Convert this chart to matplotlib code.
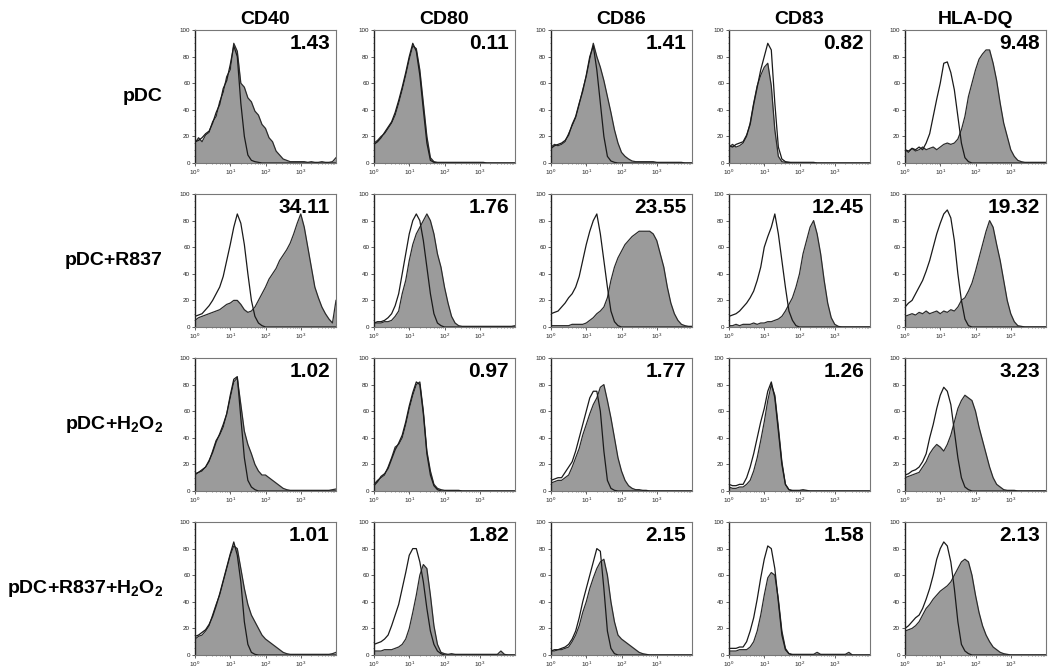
import numpy as np
import matplotlib
matplotlib.use("Agg")
import matplotlib.pyplot as plt
from matplotlib.ticker import LogLocator, NullFormatter, MultipleLocator

plt.rcParams['font.family'] = ['Liberation Sans', 'DejaVu Sans']
plt.rcParams['mathtext.fontset'] = 'custom'
plt.rcParams['mathtext.rm'] = 'Liberation Sans'
plt.rcParams['mathtext.bf'] = 'Liberation Sans:bold'

markers = ['CD40', 'CD80', 'CD86', 'CD83', 'HLA-DQ']
conditions = ['pDC', 'pDC+R837', r'pDC+H$_\mathbf{2}$O$_\mathbf{2}$',
              r'pDC+R837+H$_\mathbf{2}$O$_\mathbf{2}$']
percent_pos = [[1.43, 0.11, 1.41, 0.82, 9.48],
               [34.11, 1.76, 23.55, 12.45, 19.32],
               [1.02, 0.97, 1.77, 1.26, 3.23],
               [1.01, 1.82, 2.15, 1.58, 2.13]]

# channel positions, log10 of fluorescence, one bin every 0.1 decade
log_channel = [i / 10 for i in range(41)]

# histogram heights (% of max), bins past the list are empty
pdc_stained = [
    [15, 19, 16, 21, 23, 31, 35, 46, 53, 65, 70, 90, 84, 60, 57, 49, 46, 39, 36, 29, 26, 19, 16, 9, 6, 3, 2, 1, 1, 1,
     1, 1, 0.5, 1, 0.5, 0.5, 1, 0.5, 0.5, 1, 4],
    [15, 17, 20, 22, 26, 30, 36, 45, 55, 66, 78, 88, 86, 70, 45, 20, 4, 1, 0.5, 0.5, 0.5, 0.5, 0.5, 0.5, 0.5, 0.5,
     0.5, 0.5, 0.5, 0.5, 0.5, 0.5],
    [12, 14, 13, 14, 16, 22, 28, 34, 44, 55, 65, 78, 90, 80, 72, 62, 50, 38, 25, 15, 8, 5, 3, 1.5, 1, 1, 1, 1, 1, 1,
     0.5, 0.5, 0.5, 0.5, 0.5, 0.5, 0.5, 0.5],
    [12, 14, 12, 13, 15, 20, 30, 45, 58, 66, 72, 75, 58, 25, 5, 1, 0.5, 0.5, 0.5, 0.5, 0.5, 0.5, 0.5, 0.5, 0.5],
    [10, 8, 11, 9, 10, 12, 10, 11, 12, 10, 12, 14, 15, 14, 15, 18, 25, 35, 50, 60, 70, 78, 82, 85, 85, 75, 62, 45,
     30, 20, 10, 5, 2, 1, 0.5, 0.5, 0.5, 0.5, 0.5, 0.5, 0.5],
]
pdc_isotype = [
    [16, 17, 19, 22, 24, 30, 38, 44, 56, 62, 74, 88, 80, 45, 20, 6, 2, 1, 0.5],
    [14, 16, 19, 23, 27, 31, 38, 47, 57, 68, 80, 90, 84, 66, 40, 15, 2, 0.5],
    [11, 13, 14, 15, 17, 21, 29, 35, 45, 54, 66, 80, 88, 70, 45, 20, 5, 1.5, 0.5],
    [13, 12, 14, 15, 16, 21, 29, 44, 57, 70, 80, 90, 85, 45, 12, 3, 1, 0.5],
    [10, 9, 11, 10, 12, 10, 15, 22, 35, 48, 60, 75, 76, 68, 55, 35, 15, 4, 1],
]

r837_stained = [
    [5, 7, 8, 9, 10, 11, 12, 13, 15, 17, 18, 20, 20, 17, 13, 11, 12, 15, 20, 25, 30, 36, 40, 44, 50, 54, 58, 63, 70,
     78, 85, 75, 60, 45, 30, 22, 15, 10, 6, 3, 20],
    [3, 3, 3, 4, 4, 5, 8, 12, 25, 35, 50, 62, 70, 75, 80, 85, 80, 70, 55, 45, 30, 18, 8, 3, 1, 0.5, 0.5, 0.5, 0.5,
     0.5, 0.5, 0.5, 0.5, 0.5, 0.5, 0.5, 0.5, 0.5, 0.5, 0.5, 1],
    [1, 1, 1, 1, 1, 1, 2, 2, 2, 2, 3, 5, 7, 10, 12, 15, 22, 35, 45, 52, 57, 62, 65, 68, 70, 72, 72, 72, 72, 70, 65,
     55, 45, 30, 18, 10, 5, 2, 1, 0.5, 0.5],
    [1, 1, 2, 1, 2, 2, 2, 3, 2, 3, 3, 4, 4, 5, 6, 8, 12, 17, 22, 30, 40, 55, 65, 75, 80, 70, 55, 35, 18, 7, 2, 0.5],
    [8, 9, 10, 9, 11, 10, 12, 10, 11, 12, 10, 12, 11, 13, 12, 15, 20, 22, 27, 33, 42, 52, 62, 72, 80, 75, 62, 50,
     35, 20, 10, 4, 1, 0.5],
]
r837_isotype = [
    [8, 9, 10, 13, 16, 20, 25, 30, 38, 50, 62, 75, 85, 78, 62, 40, 20, 8, 3, 1],
    [3, 4, 4, 5, 7, 10, 16, 25, 40, 55, 70, 80, 85, 80, 65, 45, 25, 10, 3, 1],
    [10, 11, 12, 15, 18, 22, 25, 30, 38, 50, 62, 72, 80, 85, 70, 50, 30, 12, 4, 1],
    [8, 9, 10, 12, 15, 18, 22, 27, 35, 45, 60, 68, 75, 85, 70, 50, 30, 12, 5, 1],
    [15, 18, 20, 25, 30, 35, 42, 50, 60, 70, 78, 85, 88, 82, 65, 40, 20, 6, 1],
]

h2o2_stained = [
    [12, 14, 15, 18, 22, 30, 38, 42, 48, 58, 70, 82, 85, 65, 45, 35, 28, 20, 15, 12, 12, 10, 8, 6, 4, 2, 1, 0.5, 0.5,
     0.5, 0.5, 0.5, 0.5, 0.5, 0.5, 0.5, 0.5, 0.5, 0.5, 1, 1.5],
    [5, 8, 10, 12, 18, 25, 33, 35, 40, 50, 62, 72, 80, 82, 60, 30, 15, 5, 2, 1, 0.5, 0.5, 0.5, 0.5, 0.5],
    [6, 7, 8, 8, 10, 12, 18, 25, 32, 42, 50, 58, 65, 70, 78, 80, 68, 55, 40, 25, 15, 8, 4, 2, 1, 1, 0.5, 0.5],
    [3, 2, 2, 3, 3, 5, 8, 15, 25, 38, 52, 68, 80, 72, 48, 22, 5, 1, 0.5, 0.5, 0.5, 1, 0.5],
    [10, 11, 12, 13, 14, 18, 22, 28, 32, 35, 33, 30, 35, 42, 52, 62, 68, 72, 70, 68, 60, 48, 38, 28, 18, 10, 5, 3,
     1, 0.5, 0.5, 0.5],
]
h2o2_isotype = [
    [13, 14, 16, 18, 23, 29, 37, 43, 50, 58, 72, 84, 86, 55, 25, 8, 3, 1],
    [4, 7, 11, 13, 17, 24, 31, 36, 42, 52, 64, 74, 82, 80, 58, 28, 12, 4, 1],
    [8, 9, 10, 10, 14, 18, 22, 30, 40, 50, 60, 70, 75, 75, 60, 30, 8, 2, 0.5],
    [5, 4, 4, 5, 5, 10, 18, 28, 40, 52, 62, 75, 82, 70, 45, 20, 5, 1],
    [12, 13, 15, 16, 18, 22, 28, 40, 50, 62, 72, 78, 75, 65, 45, 25, 10, 3, 1],
]

both_stained = [
    [12, 14, 15, 18, 22, 30, 38, 45, 55, 65, 75, 82, 80, 65, 50, 38, 30, 25, 20, 15, 12, 10, 8, 6, 4, 2, 1, 0.5, 0.5,
     0.5, 0.5, 0.5, 0.5, 0.5, 0.5, 0.5, 0.5, 0.5, 0.5, 1, 2],
    [3, 3, 3, 4, 4, 4, 5, 6, 8, 12, 20, 32, 45, 60, 68, 65, 45, 22, 8, 2, 1, 0.5, 1, 0.5, 0.5, 0.5, 0.5, 0.5, 0.5,
     0.5, 0.5, 0.5, 0.5, 0.5, 0.5, 0.5, 3, 0.5],
    [3, 3, 4, 4, 5, 6, 10, 15, 22, 32, 40, 50, 58, 65, 70, 72, 60, 40, 25, 15, 12, 10, 8, 6, 4, 2, 1, 0.5],
    [3, 3, 3, 4, 4, 4, 6, 10, 18, 30, 45, 58, 62, 60, 42, 18, 5, 1, 0.5, 0.5, 0.5, 0.5, 0.5, 0.5, 0.5, 2, 0.5, 0.5,
     0.5, 0.5, 0.5, 0.5, 0.5, 0.5, 2],
    [18, 19, 20, 22, 25, 30, 35, 38, 42, 45, 48, 50, 52, 55, 60, 65, 70, 72, 70, 60, 45, 32, 22, 15, 10, 6, 4, 2, 1,
     0.5],
]
both_isotype = [
    [14, 15, 17, 19, 23, 29, 37, 46, 56, 66, 76, 85, 75, 55, 25, 8, 2, 0.5],
    [8, 9, 10, 12, 15, 22, 30, 38, 50, 62, 75, 80, 80, 70, 55, 35, 18, 8, 3, 1],
    [3, 4, 4, 5, 6, 8, 12, 18, 28, 40, 50, 60, 70, 80, 78, 50, 18, 5, 1],
    [5, 5, 5, 6, 6, 10, 18, 28, 42, 58, 72, 82, 80, 65, 40, 15, 4, 1],
    [20, 22, 25, 28, 30, 35, 42, 50, 60, 72, 80, 85, 82, 70, 50, 25, 8, 3, 1],
]

stained_rows = [pdc_stained, r837_stained, h2o2_stained, both_stained]
isotype_rows = [pdc_isotype, r837_isotype, h2o2_isotype, both_isotype]


def pad(v):
    v = np.asarray(v, dtype=float)
    return np.concatenate([v, np.zeros(len(log_channel) - len(v))])


W, H = 1050, 672
fig = plt.figure(figsize=(W / 100, H / 100), dpi=100)

col_left = [195, 374, 551, 729, 905]
row_top = [30, 194, 358, 522]
ax_w, ax_h = 141, 133

x = 10 ** np.array(log_channel)

for r in range(4):
    for c in range(5):
        ax = fig.add_axes([col_left[c] / W, 1 - (row_top[r] + ax_h) / H, ax_w / W, ax_h / H])
        st = pad(stained_rows[r][c])
        iso = pad(isotype_rows[r][c])
        ax.fill_between(x, st, color='#9b9b9b', lw=0)
        ax.plot(x, st, color='#2b2b2b', lw=0.9)
        ax.plot(x, iso, color='#1a1a1a', lw=0.9)

        ax.set_xscale('log')
        ax.set_xlim(1, 1e4)
        ax.set_ylim(0, 100)
        ax.set_xticks([1, 10, 100, 1000])
        ax.xaxis.set_minor_locator(LogLocator(base=10, subs=range(2, 10), numticks=20))
        ax.xaxis.set_minor_formatter(NullFormatter())
        ax.set_yticks([0, 20, 40, 60, 80, 100])
        ax.yaxis.set_minor_locator(MultipleLocator(5))
        ax.tick_params(which='major', labelsize=4.5, length=2, width=0.5, pad=1.5, colors='#222222')
        ax.tick_params(which='minor', length=1, width=0.4, colors='#333333')
        for side in ['top', 'right', 'bottom']:
            ax.spines[side].set_color('#777777')
            ax.spines[side].set_linewidth(0.8)
        ax.spines['left'].set_color('#222222')
        ax.spines['left'].set_linewidth(1.0)

        ax.text(1 - 6 / ax_w, 1 - 4 / ax_h, '%.2f' % percent_pos[r][c], transform=ax.transAxes,
                ha='right', va='top', fontsize=15, fontweight='bold')

        if r == 0:
            ax.set_title(markers[c], fontsize=14, fontweight='bold', pad=4)
        if c == 0:
            fig.text(163 / W, 1 - (row_top[r] + ax_h / 2) / H, conditions[r],
                     ha='right', va='center', fontsize=14, fontweight='bold')

fig.savefig('out.png', dpi=100)
